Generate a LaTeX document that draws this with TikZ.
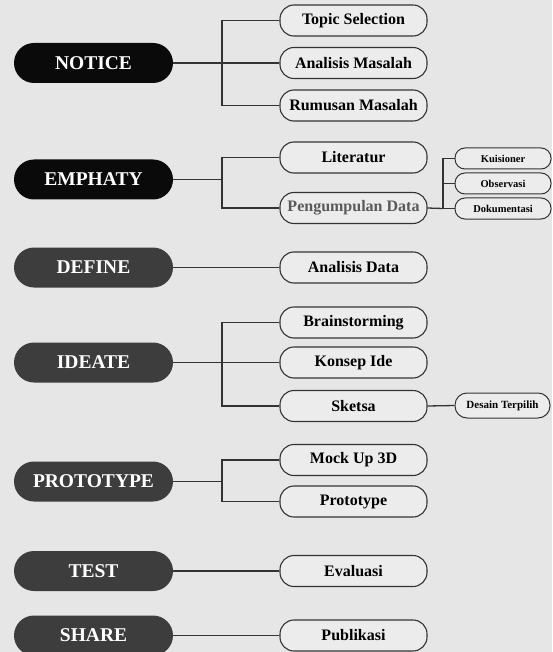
\documentclass[tikz,border=0pt]{standalone}
\usepackage{fontspec}
\setmainfont{Liberation Serif}
\definecolor{bgc}{HTML}{E6E6E6}
\definecolor{boxfill}{HTML}{ECECEC}
\definecolor{linec}{HTML}{333333}
\definecolor{pillblack}{HTML}{0A0A0A}
\definecolor{pillgray}{HTML}{3D3D3D}
\definecolor{txtgray}{HTML}{5A5A5A}
\tikzset{
  pill/.style={rectangle, rounded corners=20pt, minimum width=159pt, minimum height=40pt,
    inner sep=0pt, text=white, font=\fontsize{19.5}{20}\selectfont\bfseries},
  pillA/.style={pill, fill=pillblack},
  pillB/.style={pill, fill=pillgray},
  rbox/.style={rectangle, rounded corners=14pt, draw=linec, line width=1.1pt, fill=boxfill,
    minimum width=147pt, minimum height=31pt, inner sep=0pt, text=black,
    font=\fontsize{16}{18}\selectfont\bfseries},
  sbox/.style={rectangle, rounded corners=10pt, draw=linec, line width=1pt, fill=boxfill,
    minimum width=96pt, minimum height=21pt, inner sep=0pt, text=black,
    font=\fontsize{10.5}{12}\selectfont\bfseries},
  conn/.style={draw=linec, line width=1.3pt}
}
\begin{document}
\begin{tikzpicture}[x=1pt,y=-1pt]
\useasboundingbox (0,0) rectangle (552,652);
\clip (0,0) rectangle (552,652);
\fill[bgc] (0,0) rectangle (552,652);

% left pills
\node[pillA] (notice) at (93.5,63) {NOTICE};
\node[pillA] (emphaty) at (93.5,179.5) {EMPHATY};
\node[pillB] (define) at (93.5,267.5) {DEFINE};
\node[pillB] (ideate) at (93.5,362.5) {IDEATE};
\node[pillB] (prototype) at (93.5,481.5) {PROTOTYPE};
\node[pillB] (test) at (93.5,571) {TEST};
\node[pillB] (share) at (93.5,635.5) {SHARE};

% right boxes
\node[rbox] (topic) at (353.5,20.5) {Topic Selection};
\node[rbox] (anm) at (353.5,63) {Analisis Masalah};
\node[rbox] (rum) at (353.5,105.5) {Rumusan Masalah};
\node[rbox] (lit) at (353.5,157.5) {Literatur};
\node[rbox, text=txtgray] (peng) at (353.5,208) {Pengumpulan Data};
\node[rbox] (ad) at (353.5,267.5) {Analisis Data};
\node[rbox] (brain) at (353.5,322.5) {Brainstorming};
\node[rbox] (konsep) at (353.5,362.5) {Konsep Ide};
\node[rbox] (sketsa) at (353.5,406) {Sketsa};
\node[rbox] (mock) at (353.5,460) {Mock Up 3D};
\node[rbox] (proto) at (353.5,501.5) {Prototype};
\node[rbox] (eval) at (353.5,571) {Evaluasi};
\node[rbox] (pub) at (353.5,635.5) {Publikasi};

% sub boxes
\node[sbox] (kuis) at (503,158.5) {Kuisioner};
\node[sbox] (obs) at (503,183.5) {Observasi};
\node[sbox] (dok) at (503,208.5) {Dokumentasi};
\node[sbox, minimum width=95pt, minimum height=25pt, rounded corners=12pt,
      font=\fontsize{11}{12}\selectfont\bfseries] (desain) at (502.5,405.5) {Desain Terpilih};

% bar coordinates
\coordinate (nb) at (222,63);
\coordinate (eb) at (222,179.5);
\coordinate (ib) at (222,362.5);
\coordinate (pb) at (222,481.5);
\coordinate (sb) at (443,208.5);

% connectors
\draw[conn] (notice.east) -- (anm.west);
\draw[conn] (topic.west) -| (nb) |- (rum.west);

\draw[conn] (emphaty.east) -- (eb);
\draw[conn] (lit.west) -| (eb) |- (peng.west);

\draw[conn] (peng.east) -- (sb);
\draw[conn] (kuis.west) -| (sb) |- (dok.west);
\draw[conn] (obs.west) -- (obs.west -| sb);

\draw[conn] (define.east) -- (ad.west);

\draw[conn] (ideate.east) -- (konsep.west);
\draw[conn] (brain.west) -| (ib) |- (sketsa.west);
\draw[conn] (sketsa.east) -- (desain.west);

\draw[conn] (prototype.east) -- (pb);
\draw[conn] (mock.west) -| (pb) |- (proto.west);

\draw[conn] (test.east) -- (eval.west);
\draw[conn] (share.east) -- (pub.west);
\end{tikzpicture}
\end{document}
